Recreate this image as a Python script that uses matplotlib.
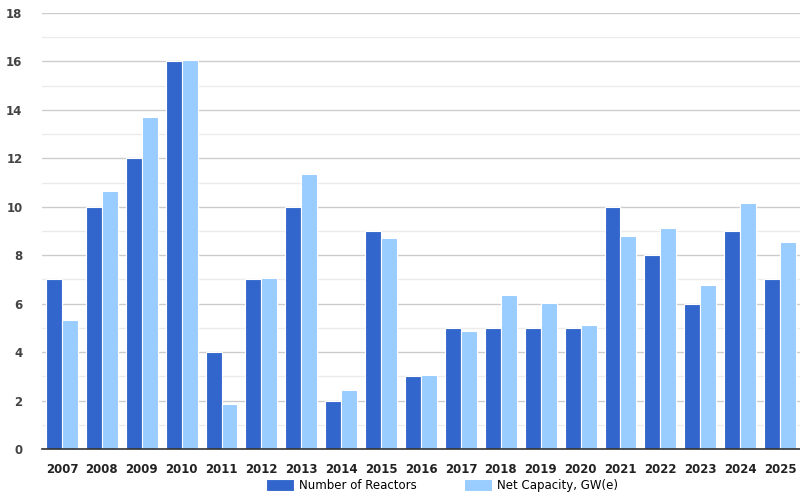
import numpy as np
import matplotlib.pyplot as plt
from matplotlib.ticker import MultipleLocator

years = ['2007', '2008', '2009', '2010', '2011', '2012', '2013', '2014', '2015', '2016',
         '2017', '2018', '2019', '2020', '2021', '2022', '2023', '2024', '2025']
reactors = [7, 10, 12, 16, 4, 7, 10, 2, 9, 3, 5, 5, 5, 5, 10, 8, 6, 9, 7]
capacity = [5.33, 10.65, 13.7, 16.06, 1.86, 7.06, 11.35, 2.44, 8.71, 3.06,
            4.87, 6.36, 6.03, 5.12, 8.79, 9.12, 6.77, 10.16, 8.55]

fig = plt.figure(figsize=(8, 4.92), dpi=100)
ax = fig.add_axes([0.0525, 0.0874, 0.9475, 0.8862])

x = np.arange(len(years))
w = 0.4
ax.bar(x - w / 2, reactors, w, color='#3366CC', edgecolor='white', linewidth=0.8,
       label='Number of Reactors', zorder=3)
ax.bar(x + w / 2, capacity, w, color='#99CCFF', edgecolor='white', linewidth=0.8,
       label='Net Capacity, GW(e)', zorder=3)

ax.set_xlim(-0.5, len(years) - 0.5)
ax.set_ylim(0, 18)
ax.yaxis.set_major_locator(MultipleLocator(2))
ax.yaxis.set_minor_locator(MultipleLocator(1))
ax.grid(axis='y', which='major', color='#cccccc', linewidth=1, zorder=0)
ax.grid(axis='y', which='minor', color='#ebebeb', linewidth=1, zorder=0)
ax.set_axisbelow(True)
for s in ['top', 'right', 'left']:
    ax.spines[s].set_visible(False)
ax.spines['bottom'].set_color('#333333')
ax.spines['bottom'].set_linewidth(1.2)
ax.spines['bottom'].set_zorder(4)

ax.set_xticks(x)
ax.set_xticklabels(years, fontsize=8.5, fontweight='bold', color='#222222')
ax.tick_params(axis='x', length=0, pad=10)
ax.tick_params(axis='y', which='both', length=0, pad=14, labelsize=8.5, labelcolor='#444444')
for t in ax.get_yticklabels():
    t.set_fontweight('bold')

fig.legend(loc='center', bbox_to_anchor=(0.553, 0.013), ncol=2, frameon=False,
           fontsize=8.5, handlelength=2.3, handleheight=1.1, handletextpad=0.5,
           columnspacing=4)

fig.savefig('out.png', dpi=100)
